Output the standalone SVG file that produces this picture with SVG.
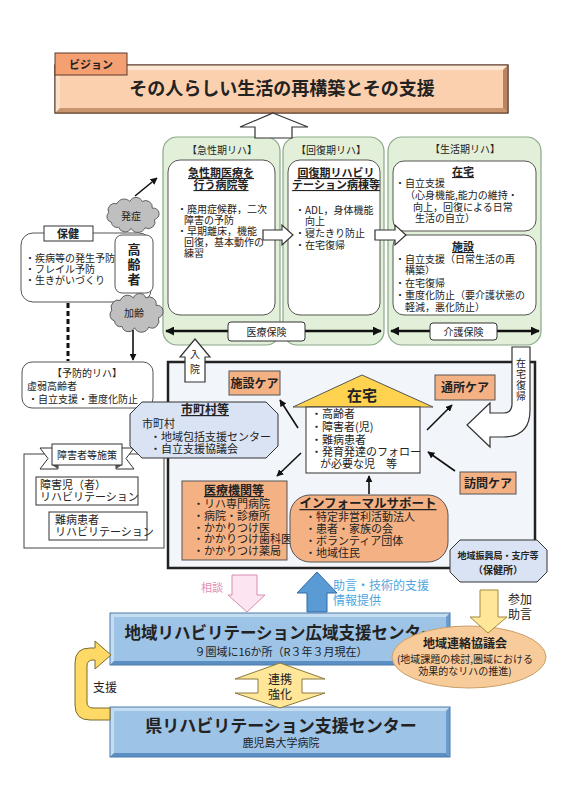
<svg xmlns="http://www.w3.org/2000/svg" width="566" height="800" viewBox="0 0 566 800">
<defs>
<marker id="ah" viewBox="0 0 10 10" refX="9" refY="5" markerWidth="7" markerHeight="7" orient="auto-start-reverse" markerUnits="userSpaceOnUse"><path d="M0,0 L10,5 L0,10 z" fill="#111"/></marker>
<marker id="ahb" viewBox="0 0 10 10" refX="9" refY="5" markerWidth="9" markerHeight="9" orient="auto-start-reverse" markerUnits="userSpaceOnUse"><path d="M0,0 L10,5 L0,10 z" fill="#111"/></marker>
<path id="cloud" d="M15,45 A10,10 0 0 1 10,28 A12,12 0 0 1 25,12 A14,14 0 0 1 48,8 A12,12 0 0 1 70,8 A12,12 0 0 1 88,20 A10,10 0 0 1 92,40 A12,12 0 0 1 75,55 A14,14 0 0 1 50,56 A12,12 0 0 1 28,54 A10,10 0 0 1 15,45 Z"/>
</defs>
<style>
text{font-family:"Noto Sans CJK JP","Noto Sans",sans-serif;fill:#222;}
.s10{font-size:10px}
.s11{font-size:11px}
.b{font-weight:700}
.c{text-anchor:middle}
.u{text-decoration:underline}
.panel{fill:#e2f0d9;stroke:#8aa888;stroke-width:1.2}
.wbox{fill:#fff;stroke:#555;stroke-width:1}
.obox{fill:#f4b183;stroke:#555;stroke-width:1}
.oct{fill:#dae3f3;stroke:#333;stroke-width:1}
.hollow{fill:#fff;stroke:#333;stroke-width:1.2}
.ln{stroke:#111;stroke-width:1.6;fill:none;marker-end:url(#ah)}
.ins{stroke:#111;stroke-width:2.5;fill:none;marker-start:url(#ahb);marker-end:url(#ahb)}
.cl{fill:#bfbfbf;stroke:#555;stroke-width:1.6}
</style>
<rect width="566" height="800" fill="#fff"/>

<g id="vision">
<rect x="55" y="65" width="453" height="48" fill="#fbd0ae" stroke="#5a3a2a"/>
<polygon points="55,65 508,65 503,70 60,70" fill="#fde6d2"/>
<polygon points="55,65 60,70 60,108 55,113" fill="#fbe0c8"/>
<polygon points="55,113 60,108 503,108 508,113" fill="#c9956e"/>
<polygon points="508,65 508,113 503,108 503,70" fill="#b98560"/>
<rect x="55" y="65" width="453" height="48" fill="none" stroke="#5a3a2a"/>
<text x="282" y="95" class="c b" font-size="18">その人らしい生活の再構築とその支援</text>
<rect x="55" y="53" width="72" height="22" fill="#f4a073" stroke="#5a3a2a"/>
<text x="91" y="69" class="c b s11">ビジョン</text>
</g>

<g id="acute">
<rect x="163" y="137" width="117" height="208" rx="14" class="panel"/>
<text x="222" y="154" class="c s10">【急性期リハ】</text>
<rect x="168" y="160" width="107" height="155" rx="12" class="wbox"/>
<text class="c b u s11"><tspan x="221" y="177">急性期医療を</tspan><tspan x="221" dy="12">行う病院等</tspan></text>
<text class="s10"><tspan x="177" y="213">・廃用症候群，二次</tspan><tspan x="184" dy="11">障害の予防</tspan><tspan x="177" dy="11">・早期離床，機能</tspan><tspan x="184" dy="11">回復，基本動作の</tspan><tspan x="184" dy="11">練習</tspan></text>
</g>

<g id="recovery">
<rect x="283" y="137" width="101" height="208" rx="14" class="panel"/>
<text x="331" y="154" class="c s10">【回復期リハ】</text>
<rect x="288" y="160" width="92" height="155" rx="12" class="wbox"/>
<text class="c b u s11"><tspan x="336" y="177">回復期リハビリ</tspan><tspan x="336" dy="12">テーション病棟等</tspan></text>
<text class="s10"><tspan x="295" y="214">・ADL，身体機能</tspan><tspan x="305" dy="11">向上</tspan><tspan x="295" dy="12">・寝たきり防止</tspan><tspan x="295" dy="12">・在宅復帰</tspan></text>
</g>

<g id="living">
<rect x="388" y="137" width="153" height="208" rx="14" class="panel"/>
<text x="465" y="153" class="c s10">【生活期リハ】</text>
<rect x="393" y="161" width="143" height="70" rx="11" class="wbox"/>
<text x="463" y="176" class="c b u s11">在宅</text>
<text class="s10"><tspan x="395" y="187">・自立支援</tspan><tspan x="405" dy="12">（心身機能,能力の維持・</tspan><tspan x="413" dy="12">向上，回復による日常</tspan><tspan x="415" dy="11">生活の自立）</tspan></text>
<rect x="393" y="235" width="143" height="80" rx="11" class="wbox"/>
<text x="463" y="251" class="c b u s11">施設</text>
<text class="s10"><tspan x="395" y="263">・自立支援（日常生活の再</tspan><tspan x="405" dy="11">構築）</tspan><tspan x="395" dy="13">・在宅復帰</tspan><tspan x="395" dy="12">・重度化防止（要介護状態の</tspan><tspan x="405" dy="12">軽減，悪化防止）</tspan></text>
</g>

<g id="hoken">
<rect x="21" y="233" width="130" height="69" rx="12" class="wbox"/>
<rect x="44" y="226" width="49" height="15" fill="#fff" stroke="#333"/>
<text x="68" y="238" class="c b s11">保健</text>
<text class="s10"><tspan x="25" y="262">・疾病等の発生予防</tspan><tspan x="25" dy="11">・フレイル予防</tspan><tspan x="25" dy="11">・生きがいづくり</tspan></text>
</g>

<g id="elderly">
<rect x="115" y="235" width="38" height="58" rx="7" class="wbox"/>
<text class="c b" font-size="13"><tspan x="134" y="254">高</tspan><tspan x="134" dy="15">齢</tspan><tspan x="134" dy="15">者</tspan></text>
</g>

<g id="onset">
<use href="#cloud" class="cl" transform="translate(103,197) scale(0.56,0.56)"/>
<text x="131" y="220" class="c s10">発症</text>
</g>

<g id="aging">
<use href="#cloud" class="cl" transform="translate(106,293) scale(0.57,0.62)"/>
<text x="134" y="317" class="c s10">加齢</text>
</g>

<g id="prevent">
<rect x="22" y="362" width="131" height="46" rx="10" class="wbox"/>
<text class="s10"><tspan x="87" y="377" text-anchor="middle">【予防的リハ】</tspan><tspan x="27" dy="13">虚弱高齢者</tspan><tspan x="28" dy="13">・自立支援・重度化防止</tspan></text>
</g>

<g id="main-area">
<rect x="168" y="362" width="367" height="206" fill="#f2f5fa" stroke="#222" stroke-width="2.5"/>
</g>

<g id="disability">
<rect x="24" y="454" width="140" height="94" fill="#fff" stroke="#444"/>
<polygon points="40,448 58,448 58,469 40,469 48,458.5" fill="#fff" stroke="#333"/>
<polygon points="134,448 116,448 116,469 134,469 126,458.5" fill="#fff" stroke="#333"/>
<polygon points="52,465 58,469 58,465" fill="#555"/>
<polygon points="122,465 116,469 116,465" fill="#555"/>
<rect x="52" y="444" width="70" height="21" fill="#fff" stroke="#333"/>
<text x="87" y="459" class="c s10">障害者等施策</text>
<rect x="36" y="477" width="102" height="28" fill="#fff" stroke="#333"/>
<text class="s11"><tspan x="40" y="489">障害児（者）</tspan><tspan x="40" dy="12">リハビリテーション</tspan></text>
<rect x="49" y="512" width="98" height="28" fill="#fff" stroke="#333"/>
<text class="s11"><tspan x="55" y="524">難病患者</tspan><tspan x="55" dy="12">リハビリテーション</tspan></text>
</g>

<g id="municipality">
<polygon points="142,402 266,402 278,414 278,446 266,458 142,458 130,446 130,414" class="oct"/>
<text x="205" y="414" class="c b u" font-size="12">市町村等</text>
<text class="s11"><tspan x="142" y="428">市町村</tspan><tspan x="150" dy="13">・地域包括支援センター</tspan><tspan x="150" dy="12">・自立支援協議会</tspan></text>
</g>

<g id="facility-care">
<rect x="229" y="371" width="51" height="24" class="obox"/>
<text x="254.5" y="388" class="c b" font-size="12">施設ケア</text>
</g>

<g id="home">
<polygon points="293,407 362,375 433,407" fill="#ffd34f" stroke="#555"/>
<rect x="306" y="407" width="114" height="66" fill="#fff" stroke="#333"/>
<text x="362" y="401" class="c b" font-size="15">在宅</text>
<text class="s11"><tspan x="311" y="418">・高齢者</tspan><tspan x="311" dy="13">・障害者(児)</tspan><tspan x="311" dy="12.5">・難病患者</tspan><tspan x="311" dy="12.5">・発育発達のフォロー</tspan><tspan x="320" dy="12">が必要な児　等</tspan></text>
</g>

<g id="day-care">
<rect x="435" y="375" width="60" height="25" class="obox"/>
<text x="465" y="392" class="c b" font-size="12">通所ケア</text>
</g>

<g id="visit-care">
<rect x="460" y="472" width="56" height="22" class="obox"/>
<text x="488" y="488" class="c b" font-size="12">訪問ケア</text>
</g>

<g id="medical">
<rect x="182" y="481" width="105" height="79" class="obox"/>
<text x="234" y="495" class="c b u" font-size="12">医療機関等</text>
<text class="s11"><tspan x="193" y="508">・リハ専門病院</tspan><tspan x="193" dy="11.8">・病院・診療所</tspan><tspan x="193" dy="11.8">・かかりつけ医</tspan><tspan x="193" dy="11.8">・かかりつけ歯科医</tspan><tspan x="193" dy="11.8">・かかりつけ薬局</tspan></text>
</g>

<g id="informal">
<rect x="290" y="495" width="158" height="67" rx="20" class="obox"/>
<text x="368" y="508" class="c b u" font-size="12.5">インフォーマルサポート</text>
<text class="s11"><tspan x="305" y="521">・特定非営利活動法人</tspan><tspan x="305" dy="12">・患者・家族の会</tspan><tspan x="305" dy="12">・ボランティア団体</tspan><tspan x="305" dy="12">・地域住民</tspan></text>
</g>

<g id="regional-office">
<polygon points="460,540 537,540 547,550 547,572 537,582 460,582 450,572 450,550" class="oct"/>
<text class="c b"><tspan x="498" y="559" font-size="9">地域振興局・支庁等</tspan><tspan x="498" dy="15" font-size="10">（保健所）</tspan></text>
</g>

<g id="wide-center">
<rect x="110" y="613" width="340" height="52" fill="#9dc3e6"/>
<polygon points="110,613 450,613 446,617 114,617" fill="#c5dcf1"/>
<polygon points="110,613 114,617 114,661 110,665" fill="#c5dcf1"/>
<polygon points="110,665 114,661 446,661 450,665" fill="#5b8fc4"/>
<polygon points="450,613 450,665 446,661 446,617" fill="#6a9ccf"/>
<rect x="110" y="613" width="340" height="52" fill="none" stroke="#4a7aaa"/>
<text x="281" y="639" class="c b" font-size="16.5">地域リハビリテーション広域支援センター</text>
<text x="281" y="656" class="c s11">９圏域に16か所（R３年３月現在）</text>
</g>

<g id="council">
<ellipse cx="469" cy="657" rx="77" ry="31" fill="#f8cb9a" stroke="#c9a06a"/>
<text x="465" y="648" class="c b" font-size="12">地域連絡協議会</text>
<text class="c s10"><tspan x="465" y="663">(地域課題の検討,圏域における</tspan><tspan x="465" dy="12">効果的なリハの推進)</tspan></text>
</g>

<g id="pref-center">
<rect x="110" y="707" width="340" height="50" fill="#9dc3e6"/>
<polygon points="110,707 450,707 446,711 114,711" fill="#c5dcf1"/>
<polygon points="110,707 114,711 114,753 110,757" fill="#c5dcf1"/>
<polygon points="110,757 114,753 446,753 450,757" fill="#5b8fc4"/>
<polygon points="450,707 450,757 446,753 446,711" fill="#6a9ccf"/>
<rect x="110" y="707" width="340" height="50" fill="none" stroke="#4a7aaa"/>
<text x="281" y="732" class="c b" font-size="17">県リハビリテーション支援センター</text>
<text x="281" y="747" class="c s11">鹿児島大学病院</text>
</g>

<g id="connectors">
<polygon points="273,113 308,127 292,127 292,138 255,138 255,127 240,127" class="hollow"/>
<polygon points="263,230 282,230 282,225 293,235 282,245 282,240 263,240" class="hollow"/>
<polygon points="375,230 395,230 395,225 406,235 395,245 395,240 375,240" class="hollow"/>
<line x1="135" y1="196" x2="157" y2="178" class="ln"/>
<line x1="133" y1="330" x2="133" y2="360" class="ln"/>
<line x1="68" y1="303" x2="68" y2="361" stroke="#111" stroke-width="3" stroke-dasharray="5,3"/>
<line x1="166" y1="331" x2="381" y2="331" class="ins"/>
<rect x="228" y="322" width="77" height="19" rx="3" fill="#fff" stroke="#333"/>
<text x="266.5" y="335.5" class="c s10">医療保険</text>
<line x1="391" y1="331" x2="539" y2="331" class="ins"/>
<rect x="430" y="323" width="67" height="17" rx="3" fill="#fff" stroke="#333"/>
<text x="463.5" y="335.5" class="c s10">介護保険</text>
<polygon points="195,339 210,357 205,357 205,382 185,382 185,357 180,357" class="hollow"/>
<text class="c s10"><tspan x="195" y="358">入</tspan><tspan x="195" dy="15">院</tspan></text>
<path d="M512,347 L530,347 L530,410 Q530,437 503,437 L490,437 L490,447 L467,425 L490,403 L490,413 L503,413 Q512,413 512,404 Z" class="hollow"/>
<text class="c s10"><tspan x="521" y="367">在</tspan><tspan x="521" dy="11">宅</tspan><tspan x="521" dy="11">復</tspan><tspan x="521" dy="11">帰</tspan></text>
<line x1="298" y1="428" x2="280" y2="400" class="ln"/>
<line x1="301" y1="453" x2="277" y2="476" class="ln"/>
<line x1="427" y1="430" x2="452" y2="405" class="ln"/>
<line x1="455" y1="471" x2="428" y2="452" class="ln"/>
<line x1="369" y1="494" x2="369" y2="476" class="ln"/>
<polygon points="232,575 257,575 257,595 265,595 247,612 228,595 232,595" fill="#fde4f1" stroke="#d98ab0"/>
<text x="212" y="592" class="c s11" style="fill:#e38db5">相談</text>
<polygon points="317,572 337,593 327,593 327,612 307,612 307,593 297,593" fill="#5b9bd5" stroke="#2e6aa6"/>
<text font-size="12" style="fill:#4fa6df"><tspan x="333" y="590">助言・技術的支援</tspan><tspan x="333" dy="15">情報提供</tspan></text>
<polygon points="480,590 498,590 498,617 507,617 488,633 470,617 480,617" fill="#ffe699" stroke="#a08a3a"/>
<text class="c" font-size="12"><tspan x="520" y="604">参加</tspan><tspan x="520" dy="15">助言</tspan></text>
<polygon points="280,663 325,679 302,679 302,693 325,693 280,708 235,693 258,693 258,679 235,679" fill="#ffe699" stroke="#8a7a3a"/>
<text class="c" font-size="12"><tspan x="280" y="684">連携</tspan><tspan x="280" dy="15">強化</tspan></text>
<path d="M110,720 L90,720 Q75,720 75,705 L75,663 Q75,648 90,648 L95,648 L95,641 L111,655 L95,669 L95,660 L93,660 Q87,660 87,666 L87,702 Q87,708 93,708 L110,708 Z" fill="#ffd966" stroke="#7a6a2a"/>
<text x="105" y="692" class="c" font-size="12">支援</text>
</g>
</svg>
